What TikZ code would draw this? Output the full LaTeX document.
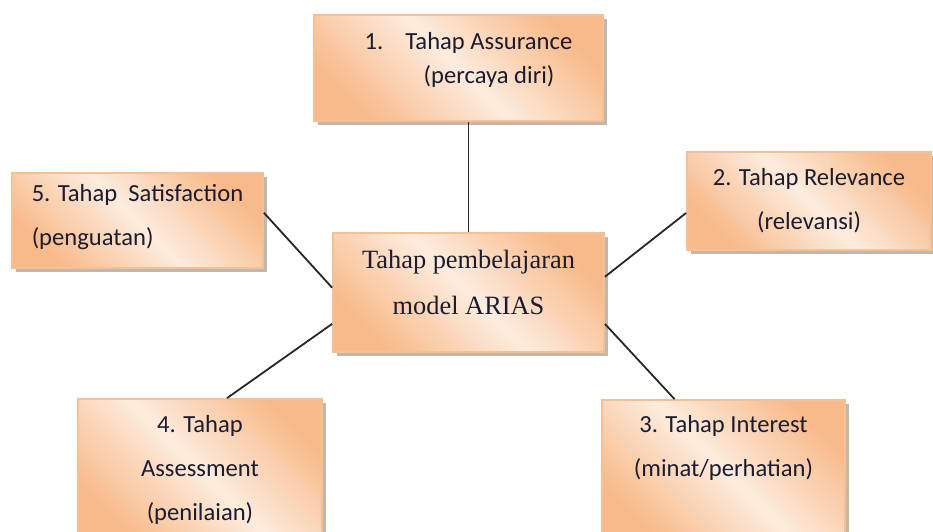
\documentclass[tikz,border=0pt]{standalone}
\usepackage{fontspec}
\setmainfont{Carlito}
\newfontfamily\centrefont{Liberation Serif}
\usetikzlibrary{calc,shadows}
\definecolor{boxdark} {RGB}{248,186,138}
\definecolor{boxlight}{RGB}{253,236,222}
\definecolor{boxline} {RGB}{247,192,146}
\definecolor{boxshade}{RGB}{150,135,120}
\definecolor{inkdark} {RGB}{28,28,48}
\newcommand{\lowpad}[1]{\rule[-#1]{0pt}{0pt}}

\begin{document}
\begin{tikzpicture}[x=0.5pt,y=-0.5pt,
    stage/.style={rectangle,draw=boxline,line width=0.9pt,inner sep=0pt,
                  top color=boxdark,bottom color=boxdark,middle color=boxlight,shading angle=-45,
                  drop shadow={shadow xshift=1.8pt,shadow yshift=-1.8pt,fill=boxshade,opacity=0.6},
                  font=\fontsize{12.3}{22}\selectfont,text=inkdark},
    link/.style={line width=0.9pt,black!85}
  ]
    \useasboundingbox (0,0) rectangle (933,531);
    \clip (0,0) rectangle (933,531);
    \node[stage,minimum width=144.5pt,minimum height=53pt,align=left,
          font=\fontsize{12.3}{17}\selectfont] (b1) at (458.5,68)
          {\hspace*{10pt}1.\hspace{11pt}Tahap Assurance\\\hspace*{39.5pt}(percaya diri)\lowpad{10.5pt}};
    \node[stage,minimum width=122pt,minimum height=49pt,align=center] (b2) at (809,201)
          {2. Tahap Relevance\\(relevansi)};
    \node[stage,minimum width=121.5pt,minimum height=70pt,align=center] (b3) at (723.5,470)
          {3. Tahap Interest\\(minat/perhatian)\lowpad{24pt}};
    \node[stage,minimum width=122pt,minimum height=70.5pt,align=center] (b4) at (200,469.5)
          {4. Tahap\\Assessment\\(penilaian)};
    \node[stage,minimum width=125.5pt,minimum height=47.5pt,align=left] (b5) at (137.5,220.5)
          {5. Tahap~ Satisfaction\\(penguatan)\lowpad{6pt}};
    \node[stage,minimum width=135.5pt,minimum height=59.5pt,align=center,
          font=\centrefont\fontsize{13.2}{23}\selectfont] (c) at (468.5,292.5)
          {Tahap pembelajaran\\model ARIAS\lowpad{10.5pt}};
    % spokes
    \draw[link] (c.north) -- (c.north |- b1.south);
    \draw[link] ($(b5.north east)!0.42!(b5.south east)$) -- ($(c.north west)!0.46!(c.south west)$);
    \draw[link] ($(c.north west)!0.76!(c.south west)$) -- ($(b4.north west)!0.61!(b4.north east)$);
    \draw[link] ($(c.north east)!0.37!(c.south east)$) -- ($(b2.north west)!0.62!(b2.south west)$);
    \draw[link] ($(c.north east)!0.76!(c.south east)$) -- ($(b3.north west)!0.30!(b3.north east)$);
  \end{tikzpicture}
\end{document}
